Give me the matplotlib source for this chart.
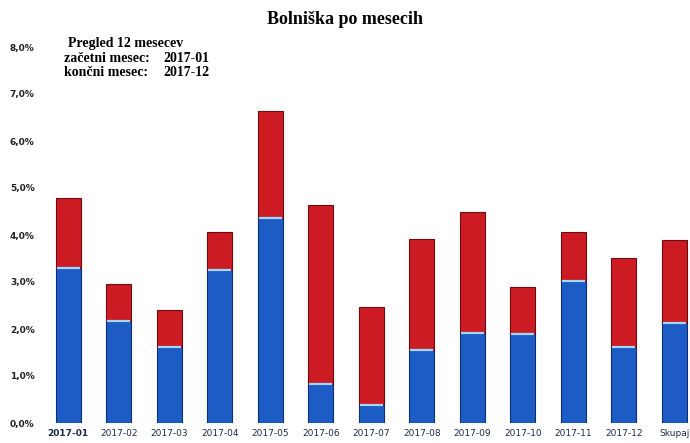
#!/usr/bin/env python
# Bolniska po mesecih - stacked bars, 12 months + total
import numpy as np
import matplotlib
matplotlib.use('Agg')
import matplotlib.pyplot as plt

months = ['2017-01', '2017-02', '2017-03', '2017-04', '2017-05', '2017-06',
          '2017-07', '2017-08', '2017-09', '2017-10', '2017-11', '2017-12', 'Skupaj']
# lower (blue) part and total height, in %
blue = [3.29, 2.16, 1.61, 3.26, 4.36, 0.83, 0.38, 1.55, 1.91, 1.89, 3.03, 1.62, 2.13]
total = [4.78, 2.96, 2.40, 4.06, 6.64, 4.64, 2.46, 3.91, 4.50, 2.90, 4.07, 3.52, 3.89]
red = [t - b for t, b in zip(total, blue)]
yticks = [0, 1, 2, 3, 4, 5, 6, 7, 8]

fig = plt.figure(figsize=(6.9, 4.43), dpi=100)
ax = fig.add_axes([43/690, 20/443, 647/690, 376/443])

x = np.arange(len(months))
ax.bar(x, blue, width=0.5, color='#1d5cc4', edgecolor='#0d2f78', linewidth=0.8)
ax.bar(x, red, bottom=blue, width=0.5, color='#cc1b22', edgecolor='#6e0b10', linewidth=0.8)
# light highlight at the top of the blue part
ax.hlines(blue, x - 0.23, x + 0.23, color='#9fd8ff', linewidth=1.6)

ax.set_xlim(-0.5, 12.31)
ax.set_ylim(0, 8)
ax.set_yticks(yticks)
ax.set_yticklabels(['%d,0%%' % v for v in yticks], fontsize=6.5,
                   fontweight='bold', color='#222222')
ax.set_xticks(x)
ax.set_xticklabels(months, fontsize=6.5, color='#1f2a44')
ax.get_xticklabels()[0].set_fontweight('bold')
ax.tick_params(length=0, pad=4)
ax.tick_params(axis='y', pad=6)
for s in ax.spines.values():
    s.set_visible(False)

serif = dict(family='Liberation Serif', fontweight='bold', va='center')
fig.text(0.5, 1 - 20/443, 'Bolniška po mesecih', ha='center', fontsize=13, **serif)
fig.text(68/690, 1 - 43/443, 'Pregled 12 mesecev', fontsize=10, **serif)
fig.text(64/690, 1 - 58/443, 'začetni mesec:', fontsize=10, **serif)
fig.text(163/690, 1 - 58/443, '2017-01', fontsize=10, **serif)
fig.text(64/690, 1 - 73/443, 'končni mesec:', fontsize=10, **serif)
fig.text(163/690, 1 - 73/443, '2017-12', fontsize=10, **serif)

plt.savefig('out.png', dpi=100)
